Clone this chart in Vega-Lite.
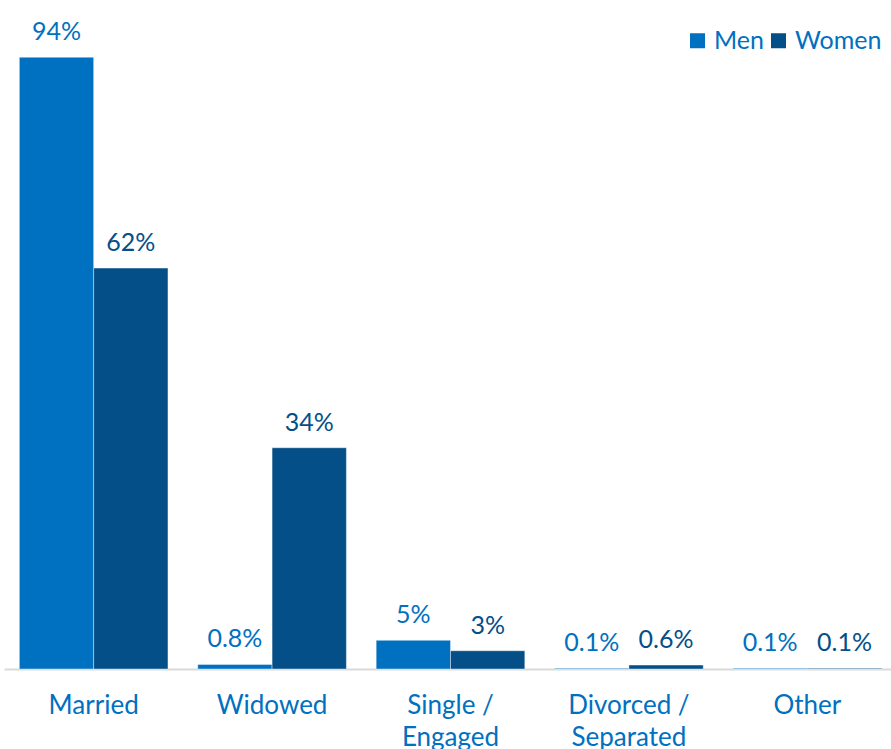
{
  "$schema": "https://vega.github.io/schema/vega-lite/v6.json",
  "width": 887,
  "height": 669,
  "autosize": {"type": "none"},
  "padding": {"left": 4, "top": 0, "right": 0, "bottom": 80},
  "background": "white",
  "config": {
    "font": "Lato",
    "view": {"stroke": null},
    "axis": {"labelFont": "Lato", "titleFont": "Lato"},
    "legend": {"labelFont": "Lato"}
  },
  "data": {
    "values": [
      {"status": "Married", "sex": "Men", "value": 94, "label": "94%"},
      {"status": "Married", "sex": "Women", "value": 61.6, "label": "62%"},
      {"status": "Widowed", "sex": "Men", "value": 0.7, "label": "0.8%"},
      {"status": "Widowed", "sex": "Women", "value": 34, "label": "34%"},
      {"status": "Single / Engaged", "sex": "Men", "value": 4.4, "label": "5%"},
      {"status": "Single / Engaged", "sex": "Women", "value": 2.8, "label": "3%"},
      {"status": "Divorced / Separated", "sex": "Men", "value": 0.1, "label": "0.1%"},
      {"status": "Divorced / Separated", "sex": "Women", "value": 0.6, "label": "0.6%"},
      {"status": "Other", "sex": "Men", "value": 0.1, "label": "0.1%"},
      {"status": "Other", "sex": "Women", "value": 0.1, "label": "0.1%"}
    ]
  },
  "encoding": {
    "x": {
      "field": "status",
      "type": "nominal",
      "sort": null,
      "scale": {"paddingInner": 0.167, "paddingOuter": 0.086, "range": [0, 893]},
      "axis": {
        "title": null,
        "labelAngle": 0,
        "labelFontSize": 26,
        "labelColor": "#0070C0",
        "labelPadding": 23,
        "labelLineHeight": 32,
        "labelExpr": "split(datum.value, ' / ')[1] ? [split(datum.value, ' / ')[0] + ' /', split(datum.value, ' / ')[1]] : datum.value",
        "ticks": false,
        "domainColor": "#d9d9d9",
        "domainWidth": 2,
        "labelBaseline": "top"
      }
    },
    "xOffset": {"field": "sex", "type": "nominal", "sort": ["Men", "Women"]},
    "y": {
      "field": "value",
      "type": "quantitative",
      "scale": {"domain": [0, 102.8], "nice": false},
      "axis": null
    },
    "color": {
      "field": "sex",
      "type": "nominal",
      "scale": {"domain": ["Men", "Women"], "range": ["#0070C0", "#044F88"]},
      "legend": {
        "title": null,
        "orient": "none",
        "direction": "horizontal",
        "legendX": 681,
        "legendY": 28,
        "symbolType": "square",
        "symbolSize": 225,
        "symbolOpacity": 1,
        "symbolStrokeWidth": 0,
        "labelFontSize": 25,
        "labelColor": "#0070C0",
        "labelOffset": 4,
        "columnPadding": 2,
        "padding": 0
      }
    }
  },
  "layer": [
    {
      "mark": {"type": "bar", "stroke": "white", "strokeWidth": 1, "strokeOpacity": 0.4}
    },
    {
      "mark": {"type": "text", "fontSize": 25, "baseline": "alphabetic", "dy": -17},
      "encoding": {"text": {"field": "label"}}
    }
  ]
}
